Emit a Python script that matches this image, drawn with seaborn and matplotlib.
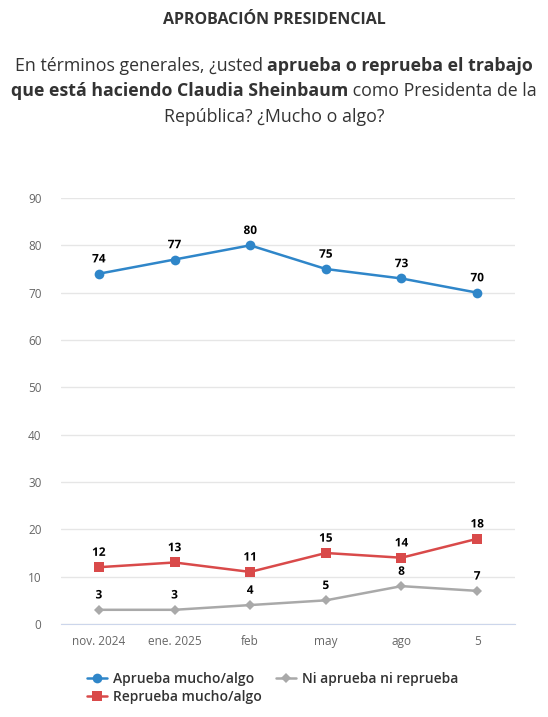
import matplotlib
matplotlib.use("Agg")
import matplotlib.pyplot as plt
import matplotlib.patheffects as pe
import seaborn as sns
import pandas as pd

# chart values
months = ["nov. 2024", "ene. 2025", "feb", "may", "ago", "5"]
aprueba = [74, 77, 80, 75, 73, 70]
reprueba = [12, 13, 11, 15, 14, 18]
ni_ni = [3, 3, 4, 5, 8, 7]

series_names = ["Aprueba mucho/algo", "Reprueba mucho/algo", "Ni aprueba ni reprueba"]
series_vals = [aprueba, reprueba, ni_ni]
colors = ["#2f86c9", "#d94a4a", "#a9a9a9"]
markers = ["o", "s", "D"]
msizes = [7, 7, 5]

rows = []
for name, vals in zip(series_names, series_vals):
    for i, (m, v) in enumerate(zip(months, vals)):
        rows.append({"serie": name, "mes": m, "idx": i, "valor": v})
df = pd.DataFrame(rows)

sns.set_style("white")
plt.rcParams["font.family"] = ["Open Sans", "DejaVu Sans"]

W, H = 548, 717
fig = plt.figure(figsize=(W / 100, H / 100), dpi=100)

# plot area in pixels
left, right, top, bottom = 61, 515, 198, 624
ax = fig.add_axes([left / W, (H - bottom) / H, (right - left) / W, (bottom - top) / H])

for name, col, mk, ms in zip(series_names, colors, markers, msizes):
    sub = df[df["serie"] == name]
    sns.lineplot(data=sub, x="idx", y="valor", ax=ax, color=col, marker=mk,
                 markersize=ms, markeredgewidth=0, linewidth=1.8, label=name,
                 legend=False)
    for _, r in sub.iterrows():
        ax.annotate(str(r["valor"]), (r["idx"], r["valor"]), xytext=(0, 6),
                    textcoords="offset points", ha="center", va="bottom",
                    fontsize=8.5, fontweight="bold", color="black",
                    path_effects=[pe.withStroke(linewidth=2, foreground="white")])

ax.set_xlim(-0.5, len(months) - 0.5)
ax.set_ylim(0, 90)
ax.set_yticks(range(0, 91, 10))
ax.set_xticks(range(len(months)))
ax.set_xticklabels(months)
ax.tick_params(axis="both", length=0, labelsize=8.5, labelcolor="#666666")
ax.tick_params(axis="y", pad=14)
ax.tick_params(axis="x", pad=8)
ax.grid(axis="y", color="#e6e6e6", linewidth=1)
ax.set_axisbelow(True)
for s in ["top", "right", "left"]:
    ax.spines[s].set_visible(False)
ax.spines["bottom"].set_color("#ccd6eb")
ax.set_xlabel("")
ax.set_ylabel("")

# legend
handles, labels = ax.get_legend_handles_labels()
fig.legend(handles, labels, ncol=2, loc="upper left",
           bbox_to_anchor=(74 / W, 1 - 659 / H), frameon=False,
           prop={"size": 10, "weight": "semibold"}, labelcolor="#333333",
           handlelength=1.5, columnspacing=1.0, handletextpad=0.4,
           labelspacing=0.3)

# title
fig.text(0.5, 1 - 20 / H, "APROBACIÓN PRESIDENCIAL", ha="center", va="center",
         fontsize=11.5, fontweight="bold", color="#333333")

# subtitle with mixed weights
sub_lines = [
    [("En términos generales, ¿usted ", "normal"), ("aprueba o reprueba el trabajo", "bold")],
    [("que está haciendo Claudia Sheinbaum", "bold"), (" como Presidenta de la", "normal")],
    [("República? ¿Mucho o algo?", "normal")],
]
sub_y = [66, 91, 117]
fs = 12.8
renderer = fig.canvas.get_renderer()
for parts, yy in zip(sub_lines, sub_y):
    widths = []
    for txt, wt in parts:
        t = fig.text(0, 0, txt.replace(" ", "\u00a0"), fontsize=fs, fontweight=wt)
        widths.append(t.get_window_extent(renderer).width)
        t.remove()
    x = (W - sum(widths)) / 2
    for (txt, wt), w in zip(parts, widths):
        fig.text(x / W, 1 - yy / H, txt.replace(" ", "\u00a0"), fontsize=fs,
                 fontweight=wt, color="#333333", ha="left", va="center")
        x += w

fig.savefig("out.png", dpi=100)
